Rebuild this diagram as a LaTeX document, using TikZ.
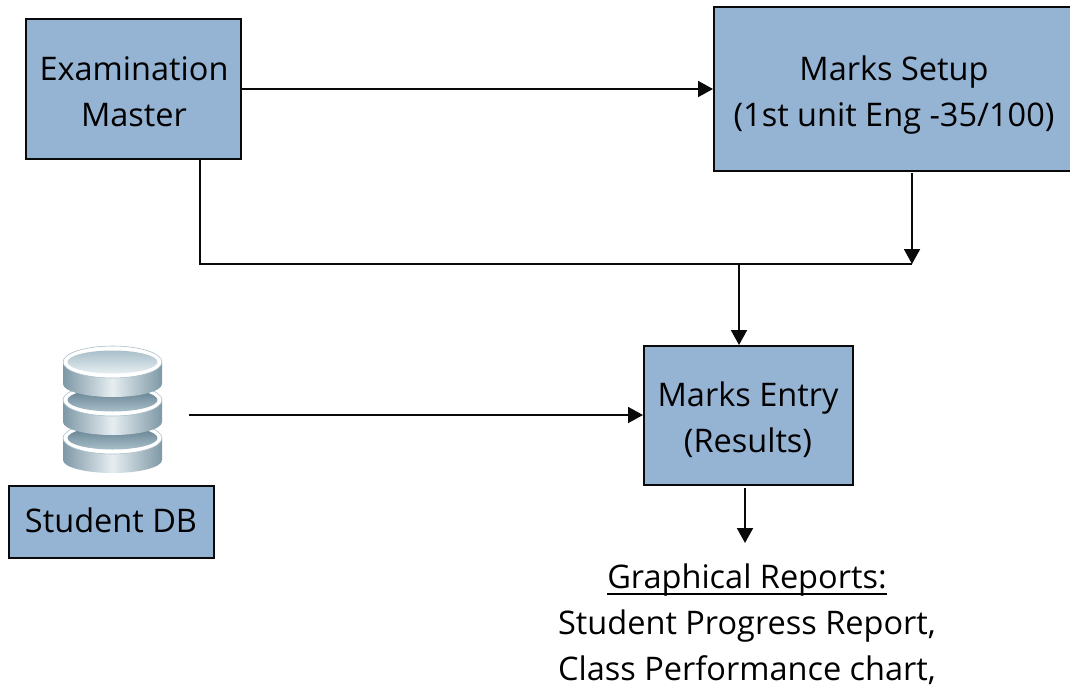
\documentclass[tikz,border=0pt]{standalone}
\usepackage{fontspec}
\setmainfont{Open Sans}
\usetikzlibrary{arrows.meta,calc}
\definecolor{boxblue}{HTML}{95B3D3}
\definecolor{lineblack}{HTML}{0A0A0A}
\definecolor{discdark}{HTML}{7E98A6}
\definecolor{discmid}{HTML}{A9BFC9}
\definecolor{disclight}{HTML}{E6EEF1}
\definecolor{discdeep}{HTML}{5F7D8E}
\tikzset{
  x=1pt,y=-1pt,
  labelfont/.style={font=\fontsize{32.5}{46}\selectfont},
  bluebox/.style={draw=lineblack,line width=1.9pt,fill=boxblue,inner sep=0pt,anchor=north west},
  boxtext/.style={labelfont,align=center},
  conn/.style={draw=lineblack,line width=1.9pt},
  arr/.style={conn,-{Triangle[length=15pt,width=16pt]}},
  discside/.style={left color=discdark,right color=discdark,middle color=disclight,draw=none},
  rim/.style={fill=white,draw=discmid,line width=0.6pt},
}
\newsavebox{\ulinebox}
\newcommand{\thickul}[1]{\sbox{\ulinebox}{#1}\rlap{\rule[-6.5pt]{\wd\ulinebox}{1.9pt}}\usebox{\ulinebox}}
\newcommand{\dbdisc}[3]{%
  \path[discside] (63,#1) -- (63,#2) arc[start angle=180,end angle=0,x radius=49.5,y radius=13] -- (162,#1) -- cycle;
  \path[rim] (112.5,#1) ellipse[x radius=49.5,y radius=16];
  \path[#3] (112.5,#1) ellipse[x radius=45,y radius=11.5];
}
\begin{document}
\begin{tikzpicture}
\useasboundingbox (0,0) rectangle (1070,691);
\clip (0,0) rectangle (1070,691);
\node[bluebox,minimum width=215pt,minimum height=140pt] (exam) at (25,18) {};
\node[boxtext] (examtext) at (134,92) {Examination\\Master};
\node[bluebox,minimum width=370pt,minimum height=164pt] (setup) at (713,6) {};
\node[boxtext] (setuptext) at (894,95) {Marks Setup\\(1st unit Eng -35/100)};
\node[bluebox,minimum width=209pt,minimum height=139pt] (entry) at (643,345) {};
\node[boxtext] (entrytext) at (748,420) {Marks Entry\\(Results)};
\node[bluebox,minimum width=205pt,minimum height=72pt] (student) at (8,485) {};
\node[boxtext] (studenttext) at (111,520) {Student DB};
\node[boxtext,anchor=north] (reports) at (747,560) {\thickul{Graphical Reports:}\\Student Progress Report,\\Class Performance chart,};
% database icon
\dbdisc{438}{460}{top color=discdeep,bottom color=discmid}
\dbdisc{400}{422}{top color=discdeep,bottom color=discmid}
\dbdisc{362}{384}{top color=discmid,bottom color=disclight}
\coordinate (dbout) at (189,415);
\coordinate (examdown) at (200,159);
\coordinate (joinL) at (200,264);
\coordinate (joinR) at (912,264);
\coordinate (setupdown) at (912,173);
\coordinate (joinM) at (739,264);
\coordinate (entryTop) at (739,345);
\coordinate (examOut) at (242,89);
\coordinate (setupIn) at (713,89);
\coordinate (entryIn) at (643,415);
\coordinate (entryOut) at (745,488);
\coordinate (reportIn) at (745,543);
\draw[arr] (examOut) -- (setupIn);
\draw[conn] (examdown) -- (joinL) -- (joinR);
\draw[arr] (setupdown) -- (joinR);
\draw[arr] (joinM) -- (entryTop);
\draw[arr] (dbout) -- (entryIn);
\draw[arr] (entryOut) -- (reportIn);
\end{tikzpicture}
\end{document}
